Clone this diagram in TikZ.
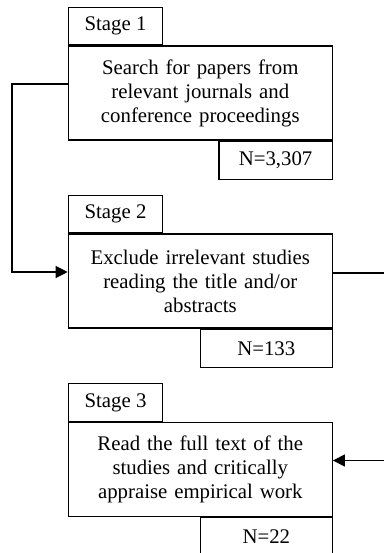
\documentclass[tikz,border=0pt]{standalone}
\usepackage{fontspec}
\setmainfont{Liberation Serif}
\usetikzlibrary{arrows.meta, positioning}

\begin{document}
\begin{tikzpicture}[
    x=0.5pt, y=0.5pt,
    every node/.style={font=\fontsize{10.4}{12}\selectfont},
    bx/.style={draw, line width=0.6pt, inner xsep=2pt, inner ysep=0pt},
    stagebox/.style={bx, text width=128pt, align=center, minimum height=47pt},
    tab/.style={bx, minimum width=47.2pt, minimum height=18.85pt},
    cnt/.style={bx, minimum height=19.15pt},
    flow/.style={line width=0.6pt, -{Triangle[length=6pt, width=6pt]}},
]
  \useasboundingbox (0,0) rectangle (384,-553);

  % stage boxes
  \node[stagebox] (s1) at (200.3,-93)   {Search for papers from\\relevant journals and\\conference proceedings};
  \node[stagebox] (s2) at (200.3,-281)  {Exclude irrelevant studies\\reading the title and/or\\abstracts};
  \node[stagebox] (s3) at (200.3,-469.5){Read the full text of the\\studies and critically\\appraise empirical work};

  % tabs and counts
  \node[tab, above right=0pt and 0pt of s1.north west] (t1) {Stage 1};
  \node[tab, above right=0pt and 0pt of s2.north west] (t2) {Stage 2};
  \node[tab, above right=0pt and 0pt of s3.north west] (t3) {Stage 3};

  \node[cnt, minimum width=56.7pt, below left=0pt and 0pt of s1.south east] (n1) {N=3,307};
  \node[cnt, minimum width=66pt,   below left=0pt and 0pt of s2.south east] (n2) {N=133};
  \node[cnt, minimum width=66pt,   below left=0pt and 0pt of s3.south east] (n3) {N=22};

  \draw[flow] ([yshift=4.5pt]s1.west) -- ++(-27.8pt,0) |- ([yshift=4.5pt]s2.west);
  \draw[flow] ([yshift=4pt]s2.east) -- ++(28pt,0) |- ([yshift=4.5pt]s3.east);
\end{tikzpicture}
\end{document}
